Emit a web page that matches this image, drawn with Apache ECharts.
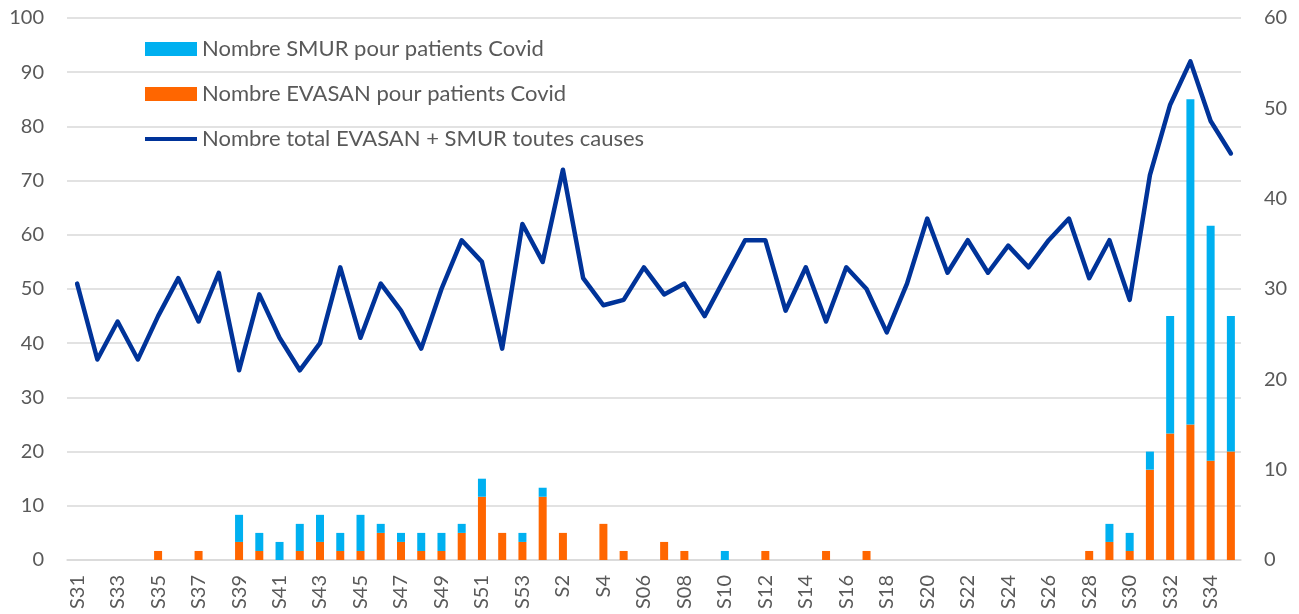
<!DOCTYPE html>
<html>
<head>
<meta charset="utf-8">
<script src="https://cdn.jsdelivr.net/npm/echarts@6/dist/echarts.min.js"></script>
<style>
  html, body { margin: 0; padding: 0; background: #fff; }
  #main { width: 1299px; height: 614px; }
</style>
</head>
<body>
<div id="main"></div>
<script>
// semaines
var weeks = [
  'S31', 'S32', 'S33', 'S34', 'S35', 'S36', 'S37', 'S38', 'S39', 'S40',
  'S41', 'S42', 'S43', 'S44', 'S45', 'S46', 'S47', 'S48', 'S49', 'S50',
  'S51', 'S52', 'S53', 'S1', 'S2', 'S3', 'S4', 'S5', 'S06', 'S07',
  'S08', 'S09', 'S10', 'S11', 'S12', 'S13', 'S14', 'S15', 'S16', 'S17',
  'S18', 'S19', 'S20', 'S21', 'S22', 'S23', 'S24', 'S25', 'S26', 'S27',
  'S28', 'S29', 'S30', 'S31', 'S32', 'S33', 'S34', 'S35'
];

// axe de droite
var evasanCovid = [
  0, 0, 0, 0, 1, 0, 1, 0, 2, 1,
  0, 1, 2, 1, 1, 3, 2, 1, 1, 3,
  7, 3, 2, 7, 3, 0, 4, 1, 0, 2,
  1, 0, 0, 0, 1, 0, 0, 1, 0, 1,
  0, 0, 0, 0, 0, 0, 0, 0, 0, 0,
  1, 2, 1, 10, 14, 15, 11, 12
];
var smurCovid = [
  0, 0, 0, 0, 0, 0, 0, 0, 3, 2,
  2, 3, 3, 2, 4, 1, 1, 2, 2, 1,
  2, 0, 1, 1, 0, 0, 0, 0, 0, 0,
  0, 0, 1, 0, 0, 0, 0, 0, 0, 0,
  0, 0, 0, 0, 0, 0, 0, 0, 0, 0,
  0, 2, 2, 2, 13, 36, 26, 15
];

// axe de gauche
var totalToutesCauses = [
  51, 37, 44, 37, 45, 52, 44, 53, 35, 49,
  41, 35, 40, 54, 41, 51, 46, 39, 50, 59,
  55, 39, 62, 55, 72, 52, 47, 48, 54, 49,
  51, 45, 52, 59, 59, 46, 54, 44, 54, 50,
  42, 51, 63, 53, 59, 53, 58, 54, 59, 63,
  52, 59, 48, 71, 84, 92, 81, 75
];

var txt = '#595959';
var font = 'Lato';

var myChart = echarts.init(document.getElementById('main'));

var option = {
  backgroundColor: '#fff',
  animation: false,
  legend: {
    orient: 'vertical',
    left: 145,
    top: 38,
    padding: 0,
    itemWidth: 52,
    itemHeight: 14,
    itemGap: 23,
    textStyle: { color: txt, fontSize: 22, lineHeight: 22, fontFamily: font },
    data: [
      { name: 'Nombre SMUR pour patients Covid', icon: 'rect' },
      { name: 'Nombre EVASAN pour patients Covid', icon: 'rect' },
      { name: 'Nombre total EVASAN + SMUR toutes causes', icon: 'path://M0,0 L52,0 L52,4 L0,4 Z' }
    ]
  },
  grid: {
    left: 67,
    right: 58,
    top: 18,
    bottom: 54
  },
  xAxis: {
    type: 'category',
    data: weeks,
    axisLine: { lineStyle: { color: '#d9d9d9', width: 1.5 } },
    axisTick: { show: false },
    axisLabel: {
      interval: 1,
      rotate: 90,
      margin: 15,
      color: txt,
      fontSize: 20,
      fontFamily: font
    }
  },
  yAxis: [
    {
      type: 'value',
      min: 0,
      max: 100,
      interval: 10,
      axisLine: { show: false },
      axisTick: { show: false },
      splitLine: { lineStyle: { color: '#d9d9d9', width: 1.5 } },
      axisLabel: { color: txt, fontSize: 20, fontFamily: font, margin: 23 }
    },
    {
      type: 'value',
      min: 0,
      max: 60,
      interval: 10,
      axisLine: { show: false },
      axisTick: { show: false },
      splitLine: { show: false },
      axisLabel: { color: txt, fontSize: 20, fontFamily: font, margin: 23 }
    }
  ],
  series: [
    {
      name: 'Nombre EVASAN pour patients Covid',
      type: 'bar',
      yAxisIndex: 1,
      stack: 'covid',
      barWidth: 8,
      itemStyle: { color: '#ff6600' },
      data: evasanCovid
    },
    {
      name: 'Nombre SMUR pour patients Covid',
      type: 'bar',
      yAxisIndex: 1,
      stack: 'covid',
      barWidth: 8,
      itemStyle: { color: '#00b0f0' },
      data: smurCovid
    },
    {
      name: 'Nombre total EVASAN + SMUR toutes causes',
      type: 'line',
      yAxisIndex: 0,
      symbol: 'none',
      itemStyle: { color: '#003399' },
      lineStyle: { color: '#003399', width: 4.5, join: 'round', cap: 'round' },
      data: totalToutesCauses
    }
  ]
};

myChart.setOption(option);
</script>
</body>
</html>
